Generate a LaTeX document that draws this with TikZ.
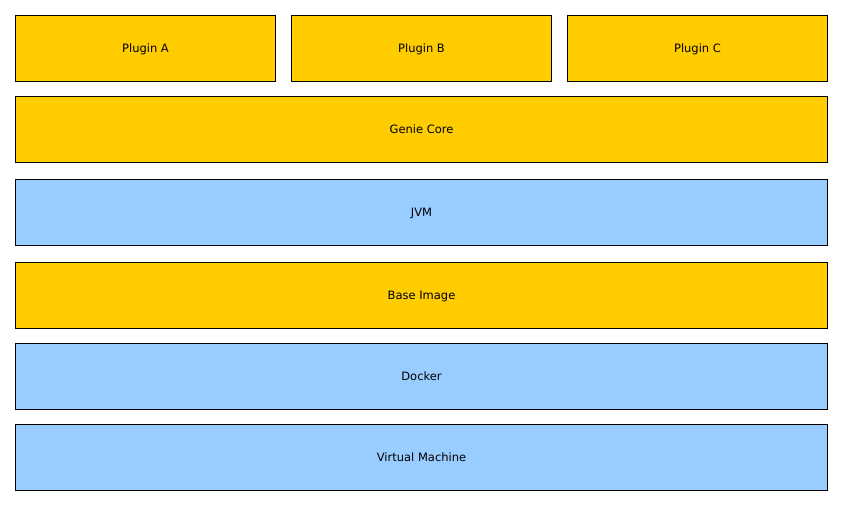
\documentclass[tikz,border=0pt]{standalone}
\usepackage{fontspec}
\setmainfont{DejaVu Sans}
\definecolor{layerorange}{HTML}{FFCC00}
\definecolor{layerblue}{HTML}{99CCFF}
\begin{document}
\begin{tikzpicture}[x=1pt,y=-1pt,
  layer/.style={draw=black,line width=1pt,minimum height=66pt,inner sep=0pt,text depth=0pt,font=\fontsize{11.5}{13}\selectfont,anchor=north west},
  orangebox/.style={layer,fill=layerorange},
  bluebox/.style={layer,fill=layerblue}]
\useasboundingbox (0,0) rectangle (842,505);
\node[orangebox,minimum width=260pt] (pa) at (15,15) {Plugin A};
\node[orangebox,minimum width=260pt] (pb) at (291,15) {Plugin B};
\node[orangebox,minimum width=260pt] (pc) at (567,15) {Plugin C};
\node[orangebox,minimum width=812pt] (core) at (15,96) {Genie Core};
\node[bluebox,minimum width=812pt] (jvm) at (15,179) {JVM};
\node[orangebox,minimum width=812pt] (base) at (15,262) {Base Image};
\node[bluebox,minimum width=812pt] (docker) at (15,343) {Docker};
\node[bluebox,minimum width=812pt] (vm) at (15,424) {Virtual Machine};
\end{tikzpicture}
\end{document}
